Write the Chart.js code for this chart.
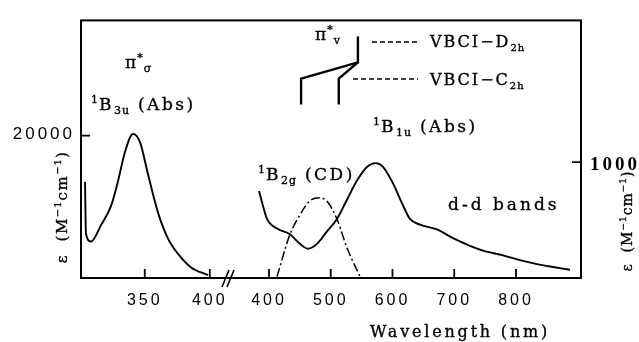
<!DOCTYPE html>
<html>
<head>
<meta charset="utf-8">
<script src="https://cdn.jsdelivr.net/npm/chart.js@4.4.0/dist/chart.umd.min.js"></script>
<style>
  html, body { margin: 0; padding: 0; background: #fff; }
  #wrap { width: 639px; height: 342px; }
</style>
</head>
<body>
<div id="wrap"><canvas id="chart"></canvas></div>
<script>
// 1B3u absorption band (left panel, nm / M-1cm-1)
const uvWave = [304.1, 304.8, 308.7, 316.4, 324.1, 329.5, 334.8, 341, 346.4, 352.5, 360.2, 367.9, 375.6, 385.6, 398.7];
const uvEps = [13510, 6215, 5135, 7430, 10130, 13645, 17700, 20250, 19050, 14590, 9190, 5540, 3380, 1490, 405];

// 1B1u absorption + d-d bands (right panel)
const visWave = [383.8, 396.8, 413, 434, 450.2, 463.2, 477.7, 493.9, 510.1, 526.3, 542.5, 558.7, 573.3, 584.6, 600.8, 617, 628.3, 644.5, 672, 698, 725.5, 746.6, 779, 806.5, 834, 860, 887.4];
const visEps = [751, 510, 427, 378, 295, 253, 295, 402, 510, 676, 842, 959, 992, 959, 817, 627, 510, 461, 419, 344, 278, 237, 195, 154, 120, 95, 71];

// 1B2g CD band (arbitrary, plotted on right axis)
const cdWave = [413, 434, 450, 466.4, 482.6, 495.5, 510, 526.3, 547.4];
const cdVal = [12, 378, 544, 668, 693, 652, 510, 261, 12];

// pi*v correlation sketch
const d2hWave = [544, 544, 452, 452];
const d2hVal = [2087, 1863, 1722, 1498];
const c2hWave = [544, 513, 513];
const c2hVal = [1863, 1722, 1498];

// ticks
const leftTicks = [350, 400];
const rightTicks = [400, 500, 600, 700, 800];
const epsTicks = [20000];
const eps2Ticks = [1000];

const pts = (xs, ys) => xs.map((x, i) => ({ x, y: ys[i] }));

function fixTicks(list) {
  return (scale) => { scale.ticks = list.map((v) => ({ value: v })); };
}
const plain = (v) => String(v);

function drawRich(ctx, parts, x, y, size, spacing, align) {
  const fam = "'DejaVu Serif', serif";
  const fontFor = (m) => (m ? Math.round(size * 0.64) : size) + "px " + fam;
  const spFor = (m) => (m ? 1 : spacing) + "px";
  let w = 0;
  const widths = parts.map(([t, m]) => {
    ctx.font = fontFor(m);
    ctx.letterSpacing = spFor(m);
    const ww = ctx.measureText(t).width;
    w += ww;
    return ww;
  });
  let cx = align === "center" ? x - w / 2 : x;
  ctx.lineWidth = 0.35;
  parts.forEach(([t, m], i) => {
    ctx.font = fontFor(m);
    ctx.letterSpacing = spFor(m);
    const dy = m === 1 ? -size * 0.42 : m === 2 ? size * 0.25 : 0;
    ctx.fillText(t, cx, y + dy);
    ctx.strokeText(t, cx, y + dy);
    cx += widths[i];
  });
}

const decor = {
  id: "decor",
  beforeDraw(chart) {
    chart.ctx.letterSpacing = "3px";
  },
  afterDraw(chart) {
    const ctx = chart.ctx;
    const a = chart.chartArea;
    ctx.save();
    ctx.letterSpacing = "0px";
    ctx.strokeStyle = "#000";
    ctx.fillStyle = "#000";

    // frame
    ctx.lineWidth = 2;
    ctx.strokeRect(a.left, a.top, a.right - a.left, a.bottom - a.top);

    // inward tick marks
    ctx.lineWidth = 1.8;
    ctx.beginPath();
    ["x1", "x2"].forEach((id) => {
      const s = chart.scales[id];
      s.ticks.forEach((t) => {
        const px = s.getPixelForValue(t.value);
        ctx.moveTo(px, a.bottom);
        ctx.lineTo(px, a.bottom - 9);
      });
    });
    chart.scales.y.ticks.forEach((t) => {
      const py = chart.scales.y.getPixelForValue(t.value);
      ctx.moveTo(a.left, py);
      ctx.lineTo(a.left + 9, py);
    });
    chart.scales.y2.ticks.forEach((t) => {
      const py = chart.scales.y2.getPixelForValue(t.value);
      ctx.moveTo(a.right, py);
      ctx.lineTo(a.right - 9, py);
    });
    ctx.stroke();

    // axis break
    const bx = chart.scales.x1.right;
    ctx.lineWidth = 1.6;
    ctx.beginPath();
    ctx.moveTo(bx - 6, a.bottom + 9);
    ctx.lineTo(bx + 1, a.bottom - 8);
    ctx.moveTo(bx - 1, a.bottom + 9);
    ctx.lineTo(bx + 6, a.bottom - 8);
    ctx.stroke();

    // legend samples for the sketch
    ctx.lineWidth = 1.5;
    ctx.setLineDash([5, 3]);
    ctx.beginPath();
    ctx.moveTo(372, 42);
    ctx.lineTo(418, 42);
    ctx.moveTo(353, 79);
    ctx.lineTo(418, 79);
    ctx.stroke();
    ctx.setLineDash([]);

    ctx.textBaseline = "alphabetic";
    ctx.textAlign = "left";
    drawRich(ctx, [["π", 0], ["*", 1], ["σ", 2]], 125, 68, 17, 1, "left");
    drawRich(ctx, [["1", 1], ["B", 0], ["3u", 2], [" (Abs)", 0]], 91, 110, 17, 2.5, "left");
    drawRich(ctx, [["1", 1], ["B", 0], ["1u", 2], [" (Abs)", 0]], 373, 132, 17, 2.5, "left");
    drawRich(ctx, [["1", 1], ["B", 0], ["2g", 2], [" (CD)", 0]], 258, 180, 17, 2.5, "left");
    drawRich(ctx, [["d-d bands", 0]], 448, 210, 17, 3, "left");
    drawRich(ctx, [["π", 0], ["*", 1], ["v", 2]], 315, 40, 17, 1, "left");
    drawRich(ctx, [["VBCI−D", 0], ["2h", 2]], 430, 47, 16, 2, "left");
    drawRich(ctx, [["VBCI−C", 0], ["2h", 2]], 430, 85, 16, 2, "left");
    drawRich(ctx, [["Wavelength (nm)", 0]], 370, 337, 16, 2.8, "left");

    const yTitle = [["ε  ", 0], ["(M", 0], ["−1", 1], ["cm", 0], ["−1", 1], [")", 0]];
    ctx.save();
    ctx.translate(67, 207);
    ctx.rotate(-Math.PI / 2);
    drawRich(ctx, yTitle, 0, 0, 15, 1.5, "center");
    ctx.restore();
    ctx.save();
    ctx.translate(632, 221);
    ctx.rotate(-Math.PI / 2);
    drawRich(ctx, yTitle, 0, 0, 14, 1, "center");
    ctx.restore();

    ctx.restore();
  },
};

const lineStyle = {
  borderColor: "#000",
  borderWidth: 1.9,
  pointRadius: 0,
  fill: false,
  cubicInterpolationMode: "monotone",
};

const xTickFont = { family: "'Liberation Sans', Arial", size: 16 };

new Chart(document.getElementById("chart"), {
  type: "line",
  data: {
    datasets: [
      { ...lineStyle, label: "1B3u", data: pts(uvWave, uvEps), xAxisID: "x1", yAxisID: "y" },
      { ...lineStyle, label: "1B1u", data: pts(visWave, visEps), xAxisID: "x2", yAxisID: "y2" },
      { ...lineStyle, label: "CD", data: pts(cdWave, cdVal), xAxisID: "x2", yAxisID: "y2", borderWidth: 1.5, borderDash: [9, 3, 2, 3] },
      { ...lineStyle, label: "D2h", data: pts(d2hWave, d2hVal), xAxisID: "x2", yAxisID: "y2", borderWidth: 2.4, cubicInterpolationMode: "default", tension: 0 },
      { ...lineStyle, label: "C2h", data: pts(c2hWave, c2hVal), xAxisID: "x2", yAxisID: "y2", borderWidth: 2.4, cubicInterpolationMode: "default", tension: 0 },
    ],
  },
  options: {
    responsive: true,
    maintainAspectRatio: false,
    animation: false,
    layout: { padding: { top: 10, left: 0, right: 0, bottom: 0 } },
    plugins: { legend: { display: false }, tooltip: { enabled: false } },
    scales: {
      x1: {
        type: "linear",
        position: "bottom",
        stack: "wl",
        stackWeight: 147,
        min: 301,
        max: 414,
        afterBuildTicks: fixTicks(leftTicks),
        afterFit: (s) => { s.height = 64; },
        grid: { display: false, drawTicks: false },
        border: { display: false },
        ticks: { color: "#000", padding: 13, maxRotation: 0, autoSkip: false, callback: plain, font: xTickFont },
      },
      x2: {
        type: "linear",
        position: "bottom",
        stack: "wl",
        stackWeight: 353,
        min: 333.6,
        max: 905.3,
        afterBuildTicks: fixTicks(rightTicks),
        afterFit: (s) => { s.height = 64; },
        grid: { display: false, drawTicks: false },
        border: { display: false },
        ticks: { color: "#000", padding: 13, maxRotation: 0, autoSkip: false, callback: plain, font: xTickFont },
      },
      y: {
        type: "linear",
        position: "left",
        min: 0,
        max: 36200,
        afterBuildTicks: fixTicks(epsTicks),
        afterFit: (s) => { s.width = 81; },
        grid: { display: false, drawTicks: false },
        border: { display: false },
        ticks: { color: "#000", padding: 6, labelOffset: -1, callback: plain, font: { family: "'Liberation Sans', Arial", size: 17 } },
      },
      y2: {
        type: "linear",
        position: "right",
        min: 0,
        max: 2225,
        afterBuildTicks: fixTicks(eps2Ticks),
        afterFit: (s) => { s.width = 58; },
        grid: { display: false, drawTicks: false },
        border: { display: false },
        ticks: { color: "#000", padding: 9, labelOffset: 3, callback: plain, font: { family: "'Liberation Serif', serif", size: 19, weight: "bold" } },
      },
    },
  },
  plugins: [decor],
});
</script>
</body>
</html>
